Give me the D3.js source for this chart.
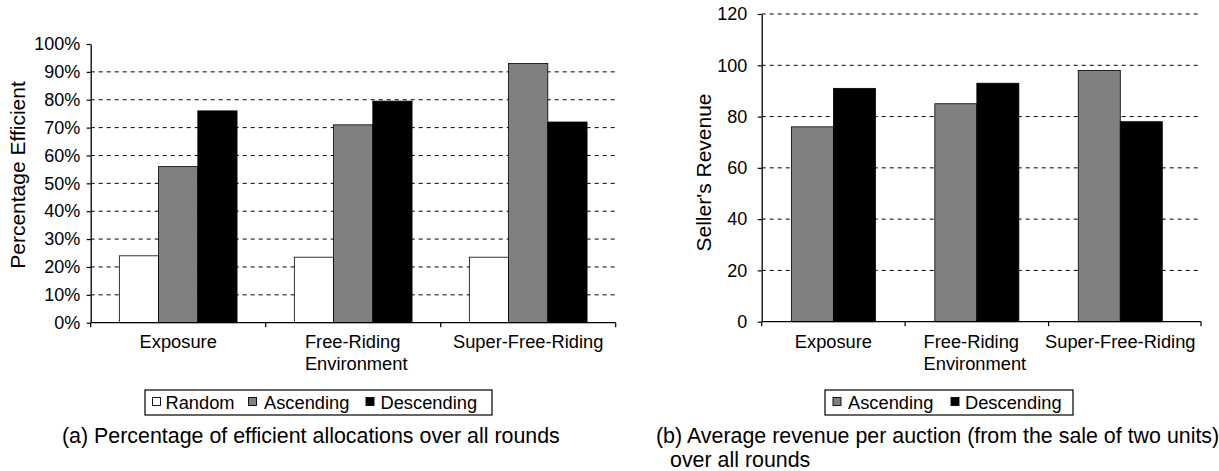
<!DOCTYPE html>
<html>
<head>
<meta charset="utf-8">
<script src="https://cdn.jsdelivr.net/npm/d3@7"></script>
<style>
  html, body { margin: 0; padding: 0; background: #fff; }
  svg { display: block; }
  text { font-family: "Liberation Sans", Arial, Helvetica, sans-serif; fill: #000; }
</style>
</head>
<body>
<svg id="chart" width="1219" height="471"></svg>
<script>
// ---------- data ----------
const categories = ["Exposure", "Free-Riding Environment", "Super-Free-Riding"];
const categoryLines = [["Exposure"], ["Free-Riding", "Environment"], ["Super-Free-Riding"]];

// (a) percentage efficient
const seriesA = ["Random", "Ascending", "Descending"];
const randomPct = [0.24, 0.235, 0.235];
const ascendingPct = [0.56, 0.71, 0.93];
const descendingPct = [0.76, 0.795, 0.72];
const ticksA = [0, 0.1, 0.2, 0.3, 0.4, 0.5, 0.6, 0.7, 0.8, 0.9, 1.0];

// (b) seller's revenue
const seriesB = ["Ascending", "Descending"];
const ascendingRev = [76, 85, 98];
const descendingRev = [91, 93, 78];
const ticksB = [0, 20, 40, 60, 80, 100, 120];

const fills = { Random: "#ffffff", Ascending: "#808080", Descending: "#000000" };

const svg = d3.select("#chart");

function drawPanel(cfg) {
  const g = svg.append("g");
  const x0 = d3.scaleBand().domain(categories).range([cfg.x0, cfg.x1]).padding(0);
  const x1 = d3.scaleBand().domain(cfg.series).range([0, x0.bandwidth()])
    .paddingInner(0).paddingOuter(cfg.outerPad);
  const y = d3.scaleLinear().domain(cfg.domain).range([cfg.yBottom, cfg.yTop]);

  // gridlines
  g.append("g").selectAll("line").data(cfg.gridTicks).join("line")
    .attr("x1", cfg.x0).attr("x2", cfg.gridEnd)
    .attr("y1", d => y(d)).attr("y2", d => y(d))
    .attr("stroke", "#000").attr("stroke-width", 1)
    .attr("stroke-dasharray", "4,4");

  // bars
  const rows = categories.map((c, i) => ({ cat: c, vals: cfg.series.map((s, j) => ({ s, v: cfg.values[j][i] })) }));
  g.append("g").selectAll("g").data(rows).join("g")
    .attr("transform", d => `translate(${x0(d.cat)},0)`)
    .selectAll("rect").data(d => d.vals).join("rect")
    .attr("x", d => x1(d.s)).attr("width", x1.bandwidth())
    .attr("y", d => y(d.v)).attr("height", d => y(0) - y(d.v))
    .attr("fill", d => fills[d.s]).attr("stroke", "#000").attr("stroke-width", 0.8);

  // y axis
  const yAxis = d3.axisLeft(y).tickValues(cfg.ticks).tickFormat(cfg.fmt)
    .tickSizeInner(4).tickSizeOuter(0).tickPadding(cfg.tickPad);
  const ya = g.append("g").attr("transform", `translate(${cfg.x0},0)`).call(yAxis);
  ya.select(".domain").attr("stroke", "#000").attr("stroke-width", 1.3);
  ya.selectAll(".tick line").attr("stroke", "#000").attr("stroke-width", 1.2);
  ya.selectAll(".tick text").style("font-size", "18px")
    .style("font-family", '"Liberation Sans", Arial, sans-serif');

  // x axis line + boundary ticks
  g.append("line").attr("x1", cfg.x0).attr("x2", cfg.axisEnd)
    .attr("y1", y(0)).attr("y2", y(0)).attr("stroke", "#000").attr("stroke-width", 1.3);
  const bounds = categories.map(c => x0(c)).concat([cfg.axisEnd]);
  g.append("g").selectAll("line").data(bounds).join("line")
    .attr("x1", d => d).attr("x2", d => d)
    .attr("y1", y(0)).attr("y2", y(0) + 4.5)
    .attr("stroke", "#000").attr("stroke-width", 1.2);

  // category labels
  categories.forEach((c, i) => {
    const cx = x0(c) + x0.bandwidth() / 2;
    const lines = categoryLines[i];
    const t = g.append("text").style("font-size", "18.3px");
    lines.forEach((ln, k) => {
      t.append("tspan").attr("x", cx).attr("y", 347.5 + k * 22.3).text(ln);
    });
    if (lines.length === 1) {
      t.attr("text-anchor", "middle");
    } else {
      const widths = [];
      t.selectAll("tspan").each(function () { widths.push(this.getComputedTextLength()); });
      const w = d3.max(widths);
      t.selectAll("tspan").attr("x", cx - w / 2 + cfg.multiShift);
    }
  });

  // y title
  g.append("text")
    .attr("transform", `translate(${cfg.titleX},${cfg.titleY}) rotate(-90)`)
    .attr("text-anchor", "middle").style("font-size", "21px").text(cfg.title);

  // legend
  const lg = g.append("g");
  lg.append("rect").attr("x", cfg.legX).attr("y", 390).attr("width", cfg.legW).attr("height", 25)
    .attr("fill", "#fff").attr("stroke", "#000").attr("stroke-width", 1.2);
  cfg.series.forEach((s, j) => {
    lg.append("rect").attr("x", cfg.legSq[j]).attr("y", 397.5).attr("width", 8).attr("height", 8)
      .attr("fill", fills[s]).attr("stroke", "#000").attr("stroke-width", 0.9);
    lg.append("text").attr("x", cfg.legTx[j]).attr("y", 408.5).style("font-size", "18.3px").text(s);
  });

  // caption
  const cap = g.append("text").style("font-size", "21.4px");
  cfg.caption.forEach((ln, k) => {
    cap.append("tspan").attr("x", k === 0 ? cfg.capX : cfg.capX2).attr("y", 443 + k * 23.5).text(ln);
  });
}

drawPanel({
  x0: 90.7, x1: 615.7, axisEnd: 615.7, gridEnd: 615.7,
  series: seriesA, values: [randomPct, ascendingPct, descendingPct],
  outerPad: 0.73, domain: [0, 1], yBottom: 322.7, yTop: 44,
  ticks: ticksA, gridTicks: ticksA.slice(1, -1), fmt: d3.format(".0%"), tickPad: 6.5,
  title: "Percentage Efficient", titleX: 25, titleY: 175,
  multiShift: 3,
  legX: 145, legW: 347, legSq: [152.5, 248.5, 366], legTx: [165.5, 264, 380.5],
  caption: ["(a) Percentage of efficient allocations over all rounds"], capX: 62, capX2: 62
});

drawPanel({
  x0: 761.7, x1: 1192, axisEnd: 1201, gridEnd: 1201,
  series: seriesB, values: [ascendingRev, descendingRev],
  outerPad: 0.707, domain: [0, 120], yBottom: 321.7, yTop: 14,
  ticks: ticksB, gridTicks: ticksB.slice(1), fmt: d3.format("d"), tickPad: 10.5,
  title: "Seller's Revenue", titleX: 711, titleY: 172.5,
  multiShift: -2,
  legX: 825, legW: 248, legSq: [833, 951], legTx: [848, 965],
  caption: ["(b) Average revenue per auction (from the sale of two units)", "over all rounds"], capX: 656, capX2: 670
});
</script>
</body>
</html>
